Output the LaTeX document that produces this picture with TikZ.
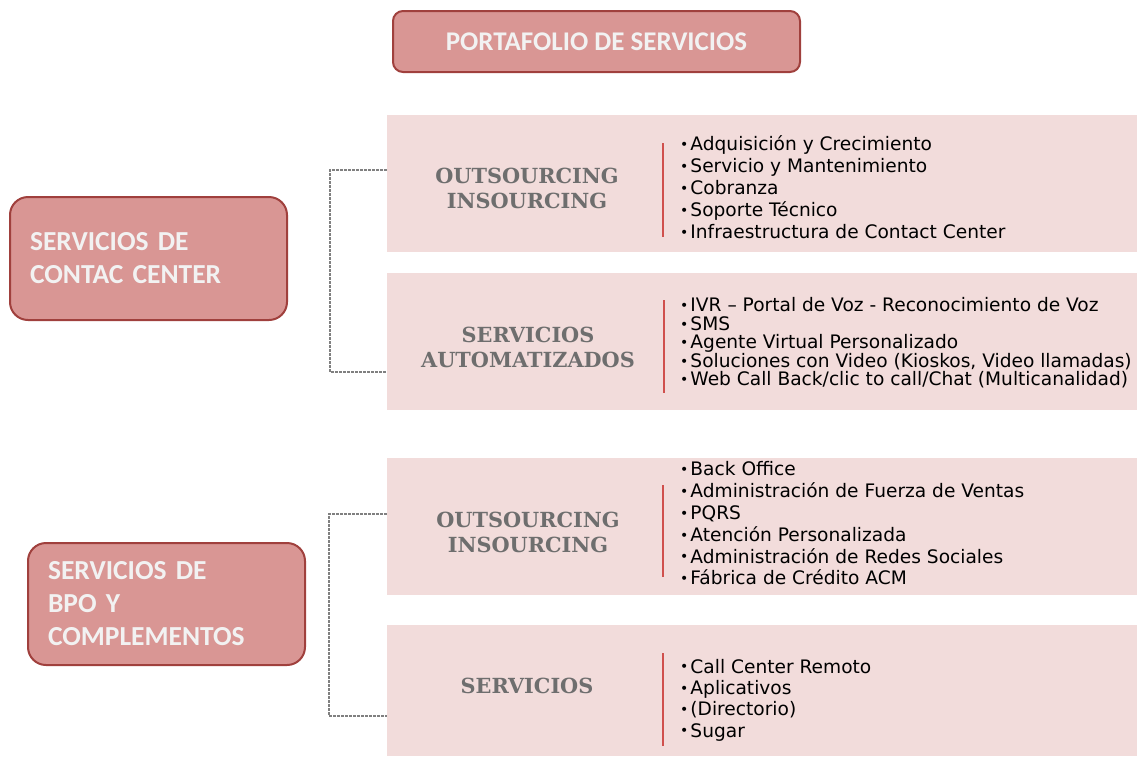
\documentclass[tikz,border=0pt]{standalone}
\usepackage{fontspec}
\setmainfont{DejaVu Sans}
\newfontfamily\boxfont{Carlito}
\newfontfamily\labfont{DejaVu Serif}
\newfontfamily\listfont{DejaVu Sans}
\definecolor{boxfill}{HTML}{D99694}
\definecolor{boxline}{HTML}{A0403D}
\definecolor{boxtext}{HTML}{F2F2F2}
\definecolor{panelfill}{HTML}{F2DCDB}
\definecolor{labgray}{HTML}{6E6E6E}
\definecolor{redline}{HTML}{D0504D}
\definecolor{brgray}{HTML}{808080}
\tikzset{
  x=1pt, y=-1pt,
  mainbox/.style={draw=boxline, line width=2pt, fill=boxfill, rounded corners=18pt,
     text=boxtext, font=\boxfont\bfseries\fontsize{27.5}{33}\selectfont, inner sep=0pt},
  panel/.style={fill=panelfill, draw=none, minimum width=750pt, inner sep=0pt},
  plabel/.style={text=labgray, font=\labfont\bfseries\fontsize{20.8}{25}\selectfont, align=center, inner sep=0pt},
  plist/.style={anchor=west, align=left, inner sep=0pt, text=black},
  sepline/.style={draw=redline, line width=1.6pt},
  bracket/.style={draw=brgray, line width=1.1pt, dash pattern=on 2.5pt off 1.5pt}
}
\newcommand{\bl}{{\fontsize{14}{14}\selectfont\raisebox{1.2pt}{•}}\hspace{2pt}}
\begin{document}
\begin{tikzpicture}
\useasboundingbox (0,0) rectangle (1137,756);
% top title
\node[mainbox, minimum width=407pt, minimum height=61pt, rounded corners=10pt,
      font=\boxfont\bfseries\fontsize{27}{30}\selectfont] (top) at (596.5,41.5) {PORTAFOLIO DE SERVICIOS};
% left boxes
\node[mainbox, minimum width=277pt, minimum height=123pt, text width=237pt, align=left] (cc) at (148.5,258.5)
   {SERVICIOS DE\\CONTAC CENTER};
\node[mainbox, minimum width=277pt, minimum height=122pt, text width=237pt, align=left] (bpo) at (166.5,604)
   {SERVICIOS DE\\BPO Y\\COMPLEMENTOS};
% panels
\node[panel, minimum height=137pt] (p1) at (762,183.5) {};
\node[panel, minimum height=137pt] (p2) at (762,341.5) {};
\node[panel, minimum height=137pt] (p3) at (762,526.5) {};
\node[panel, minimum height=131pt] (p4) at (762,690.5) {};
% panel labels
\node[plabel] (l1) at (527,188.5) {OUTSOURCING\\INSOURCING};
\node[plabel] (l2) at (528,347.5) {SERVICIOS\\AUTOMATIZADOS};
\node[plabel] (l3) at (528,532) {OUTSOURCING\\INSOURCING};
\node[plabel] (l4) at (527,686) {SERVICIOS};
% separators
\coordinate (s1a) at (663,143); \coordinate (s1b) at (663,237);
\coordinate (s2a) at (664,300); \coordinate (s2b) at (664,393);
\coordinate (s3a) at (663,485); \coordinate (s3b) at (663,577);
\coordinate (s4a) at (663,653); \coordinate (s4b) at (663,746);
\draw[sepline] (s1a) -- (s1b);
\draw[sepline] (s2a) -- (s2b);
\draw[sepline] (s3a) -- (s3b);
\draw[sepline] (s4a) -- (s4b);
% lists
\node[plist, font=\listfont\fontsize{18.6}{22}\selectfont] (t1) at (680,187)
 {\bl Adquisición y Crecimiento\\\bl Servicio y Mantenimiento\\\bl Cobranza\\\bl Soporte Técnico\\\bl Infraestructura de Contact Center};
\node[plist, font=\listfont\fontsize{18.6}{18.5}\selectfont] (t2) at (680,343)
 {\bl IVR – Portal de Voz - Reconocimiento de Voz\\\bl SMS\\\bl Agente Virtual Personalizado\\\bl Soluciones con Video (Kioskos, Video llamadas)\\\bl Web Call Back/clic to call/Chat (Multicanalidad)};
\node[plist, font=\listfont\fontsize{18.6}{21.8}\selectfont] (t3) at (680,523.5)
 {\bl Back Office\\\bl Administración de Fuerza de Ventas\\\bl PQRS\\\bl Atención Personalizada\\\bl Administración de Redes Sociales\\\bl Fábrica de Crédito ACM};
\node[plist, font=\listfont\fontsize{18.6}{21.3}\selectfont] (t4) at (680,700)
 {\bl Call Center Remoto\\\bl Aplicativos\\\bl (Directorio)\\\bl Sugar};
% brackets
\coordinate (b1t) at (330,170); \coordinate (b1b) at (330,372);
\coordinate (b2t) at (329,514); \coordinate (b2b) at (329,716);
\draw[bracket] (p1.west |- b1t) -- (b1t) -- (b1b) -- (p2.west |- b1b);
\draw[bracket] (p3.west |- b2t) -- (b2t) -- (b2b) -- (p4.west |- b2b);
\end{tikzpicture}
\end{document}
